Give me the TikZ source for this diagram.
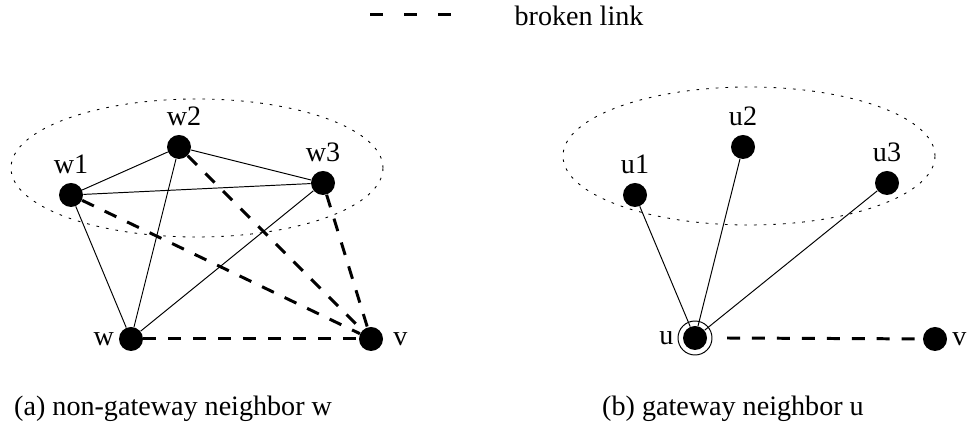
\documentclass[tikz,border=0pt]{standalone}
\usepackage{fontspec}
\setmainfont{Liberation Serif}
\usepackage{tikz}
\usetikzlibrary{arrows.meta,positioning,calc}

\begin{document}
\begin{tikzpicture}[
    dot/.style={circle, fill=black, inner sep=0pt, minimum size=4.8mm},
    lbl/.style={font=\fontsize{16}{19}\selectfont},
    link/.style={line width=0.55pt},
    broken/.style={line width=1.7pt, dash pattern=on 7.4pt off 6.8pt},
    group/.style={line width=0.5pt, dash pattern=on 1.5pt off 4pt},
    label distance=1.3mm,
    every label/.style={lbl, inner sep=1pt}
  ]
    \useasboundingbox (0,0) rectangle (19.48,8.58);

    % legend
    \coordinate (lega) at (7.40,8.28);
    \coordinate (legb) at (9.04,8.28);
    \node[lbl] (legtxt) at (11.58,8.26) {broken link};
    \draw[line width=1.7pt, dash pattern=on 7.4pt off 12pt] (lega) -- (legb);

    % (a) non-gateway neighbor
    \draw[group] (3.94,5.22) ellipse (3.72 and 1.38);
    \node[dot, label=above:w1] (w1) at (1.42,4.68) {};
    \node[dot, label={[xshift=1mm]above:w2}] (w2) at (3.58,5.64) {};
    \node[dot, label=above:w3] (w3) at (6.46,4.92) {};
    \node[dot, label={[label distance=0.5mm]left:w}] (w) at (2.62,1.80) {};
    \node[dot, label={[label distance=1.6mm]right:v}] (va) at (7.42,1.80) {};

    \draw[link] (w1) -- (w2);
    \draw[link] (w2) -- (w3);
    \draw[link] (w1) -- (w3);
    \draw[link] (w) -- (w1);
    \draw[link] (w) -- (w2);
    \draw[link] (w) -- (w3);
    \draw[broken] (w) -- (va);
    \draw[broken] (w1) -- (va);
    \draw[broken] (w2) -- (va);
    \draw[broken] (w3) -- (va);

    % (b) gateway neighbor
    \draw[group] (14.98,5.46) ellipse (3.72 and 1.38);
    \node[dot, label=above:u1] (u1) at (12.70,4.68) {};
    \node[dot, label=above:u2] (u2) at (14.86,5.64) {};
    \node[dot, label=above:u3] (u3) at (17.74,4.92) {};
    \node[dot, label={[label distance=1.4mm]left:u}] (u) at (13.90,1.82) {};
    \node[dot, label={[label distance=0.6mm]right:v}] (vb) at (18.70,1.80) {};
    \draw[link] (u) circle (0.34);

    \draw[link] (u) -- (u1);
    \draw[link] (u) -- (u2);
    \draw[link] (u) -- (u3);
    \draw[broken] ($(u)+(0.64,0)$) -- (vb);

    % captions
    \node[lbl, anchor=west] (capa) at (0.16,0.40) {(a) non-gateway neighbor w};
    \node[lbl, anchor=west] (capb) at (11.92,0.40) {(b) gateway neighbor u};
  \end{tikzpicture}
\end{document}
